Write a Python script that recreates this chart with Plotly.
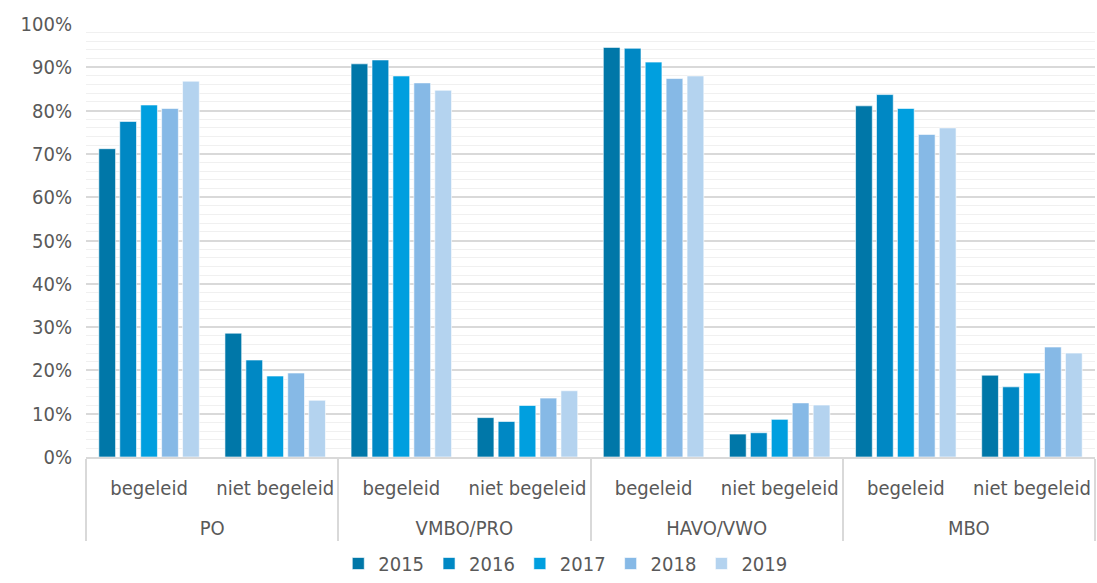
import plotly.graph_objects as go

# categories
sectors = ["PO", "VMBO/PRO", "HAVO/VWO", "MBO"]
groups = ["begeleid", "niet begeleid"]
years = ["2015", "2016", "2017", "2018", "2019"]

# share per year, order: PO beg, PO niet, VMBO beg, VMBO niet, HAVO beg, HAVO niet, MBO beg, MBO niet
v2015 = [71.2, 28.6, 90.8, 9.1, 94.6, 5.3, 81.1, 18.9]
v2016 = [77.5, 22.4, 91.7, 8.2, 94.4, 5.6, 83.7, 16.2]
v2017 = [81.3, 18.7, 88.0, 11.9, 91.2, 8.7, 80.5, 19.4]
v2018 = [80.5, 19.4, 86.4, 13.6, 87.4, 12.5, 74.5, 25.4]
v2019 = [86.8, 13.1, 84.7, 15.3, 88.0, 12.0, 76.0, 24.0]

colors = ["#0077a8", "#0088c4", "#009fdf", "#86b9e6", "#b4d3ef"]

# inner labels get an empty second line so the outer level sits lower
x_outer = [s for s in sectors for _ in groups]
x_inner = [g + "<br>\u00a0" for _ in sectors for g in groups]

fig = go.Figure()
for year, vals, c in zip(years, [v2015, v2016, v2017, v2018, v2019], colors):
    fig.add_trace(go.Bar(
        x=[x_outer, x_inner],
        y=vals,
        name=year,
        marker=dict(color=c, line=dict(color="rgba(255,255,255,0.6)", width=1)),
    ))

fig.update_layout(
    width=1097, height=583,
    margin=dict(l=86, r=2, t=24, b=126),
    barmode="group",
    bargap=0.17,
    bargroupgap=0.2,
    plot_bgcolor="white",
    paper_bgcolor="white",
    font=dict(family="DejaVu Sans Condensed, Tahoma, sans-serif", size=20, color="#595959"),
    legend=dict(orientation="h", x=0.475, xanchor="center",
                yref="container", y=-0.01, yanchor="bottom",
                font=dict(size=20), itemwidth=30, traceorder="normal"),
    showlegend=True,
)
fig.update_yaxes(
    range=[0, 100], dtick=10, ticksuffix="%",
    showgrid=True, gridcolor="#d9d9d9", gridwidth=1.5,
    minor=dict(dtick=2, showgrid=True, gridcolor="#f0f0f0", gridwidth=1),
    zeroline=False, ticks="", ticklabelstandoff=13, automargin=False,
)
fig.update_xaxes(
    showline=True, linecolor="#d9d9d9", linewidth=1.5,
    showdividers=True, dividercolor="#d9d9d9", dividerwidth=1.5,
    ticks="", tickson="boundaries", ticklabelstandoff=12, automargin=False,
)

fig.write_html("out.html", config={"displayModeBar": False},
               post_script="document.body.style.margin='0';")
